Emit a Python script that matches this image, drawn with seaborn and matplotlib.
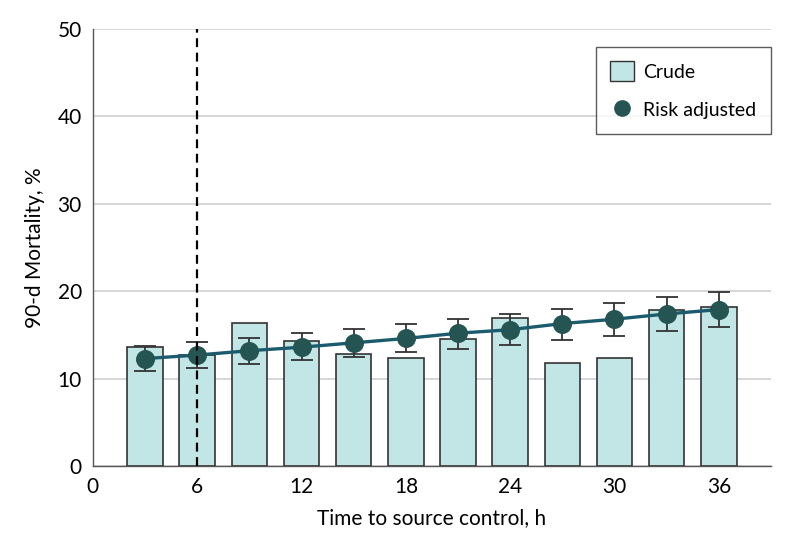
import matplotlib
matplotlib.use("Agg")
import matplotlib.pyplot as plt
import pandas as pd
import seaborn as sns
from matplotlib.lines import Line2D
from matplotlib.patches import Patch

hours = [3, 6, 9, 12, 15, 18, 21, 24, 27, 30, 33, 36]
crude = [13.6, 12.7, 16.4, 14.3, 12.8, 12.4, 14.5, 16.9, 11.8, 12.4, 17.9, 18.2]
adjusted = [12.3, 12.7, 13.2, 13.6, 14.1, 14.6, 15.2, 15.6, 16.3, 16.8, 17.4, 17.9]
adj_low = [10.9, 11.2, 11.7, 12.1, 12.5, 13.0, 13.4, 13.9, 14.4, 14.9, 15.4, 15.9]
adj_high = [13.7, 14.2, 14.7, 15.2, 15.7, 16.3, 16.8, 17.4, 18.0, 18.6, 19.3, 19.9]
xticks_ = [0, 6, 12, 18, 24, 30, 36]
yticks_ = [0, 10, 20, 30, 40, 50]

df = pd.DataFrame({"h": hours, "crude": crude, "adj": adjusted,
                   "lo": adj_low, "hi": adj_high})

sns.set_style("white")
plt.rcParams["font.family"] = ["Lato", "DejaVu Sans"]
plt.rcParams["text.color"] = "black"
plt.rcParams["axes.labelcolor"] = "black"

fig = plt.figure(figsize=(7.94, 5.53), dpi=100)
ax = fig.add_axes([0.117, 0.157, 0.854, 0.791])

bar_fill = "#c2e6e5"
sns.barplot(data=df, x="h", y="crude", native_scale=True, width=0.68,
            color=bar_fill, edgecolor="#333333", linewidth=1.2,
            saturation=1, ax=ax, zorder=2)

ax.errorbar(df.h, df.adj, yerr=[df.adj - df.lo, df.hi - df.adj],
            fmt="none", ecolor="#333333", elinewidth=1.3, capsize=8,
            capthick=1.3, zorder=3)
sns.lineplot(data=df, x="h", y="adj", color="#1c5b6e", linewidth=2.4,
             ax=ax, zorder=4)
ax.scatter(df.h, df.adj, s=160, color="#245553", zorder=5)

ax.axvline(6, color="black", linestyle=(0, (4, 2.5)), linewidth=1.6, zorder=6)

ax.set_xlim(0, 39)
ax.set_ylim(0, 50)
ax.set_xticks(xticks_)
ax.set_yticks(yticks_)
ax.yaxis.grid(True, color="#d0d0d0", linewidth=1.2, zorder=0)
ax.set_axisbelow(True)
sns.despine(ax=ax)
for s in ["left", "bottom"]:
    ax.spines[s].set_color("#555555")
    ax.spines[s].set_linewidth(1.0)
ax.tick_params(axis="both", direction="out", length=5, width=1,
               color="#555555", labelcolor="black", labelsize=15, pad=3)
ax.set_xlabel("Time to source control, h", fontsize=15, labelpad=8)
ax.set_ylabel("90-d Mortality, %", fontsize=15, labelpad=9)

handles = [Patch(facecolor=bar_fill, edgecolor="#333333", label="Crude"),
           Line2D([], [], marker="o", linestyle="none", markersize=11,
                  color="#245553", label="Risk adjusted")]
leg = ax.legend(handles=handles, loc="upper right",
                bbox_to_anchor=(1.0, 0.959), borderaxespad=0, fontsize=14,
                frameon=True, fancybox=False, edgecolor="#333333",
                handlelength=1.2, handleheight=1.2, borderpad=0.75,
                labelspacing=0.95, handletextpad=0.5)
leg.get_frame().set_linewidth(1.0)

fig.savefig("out.png", dpi=100)
